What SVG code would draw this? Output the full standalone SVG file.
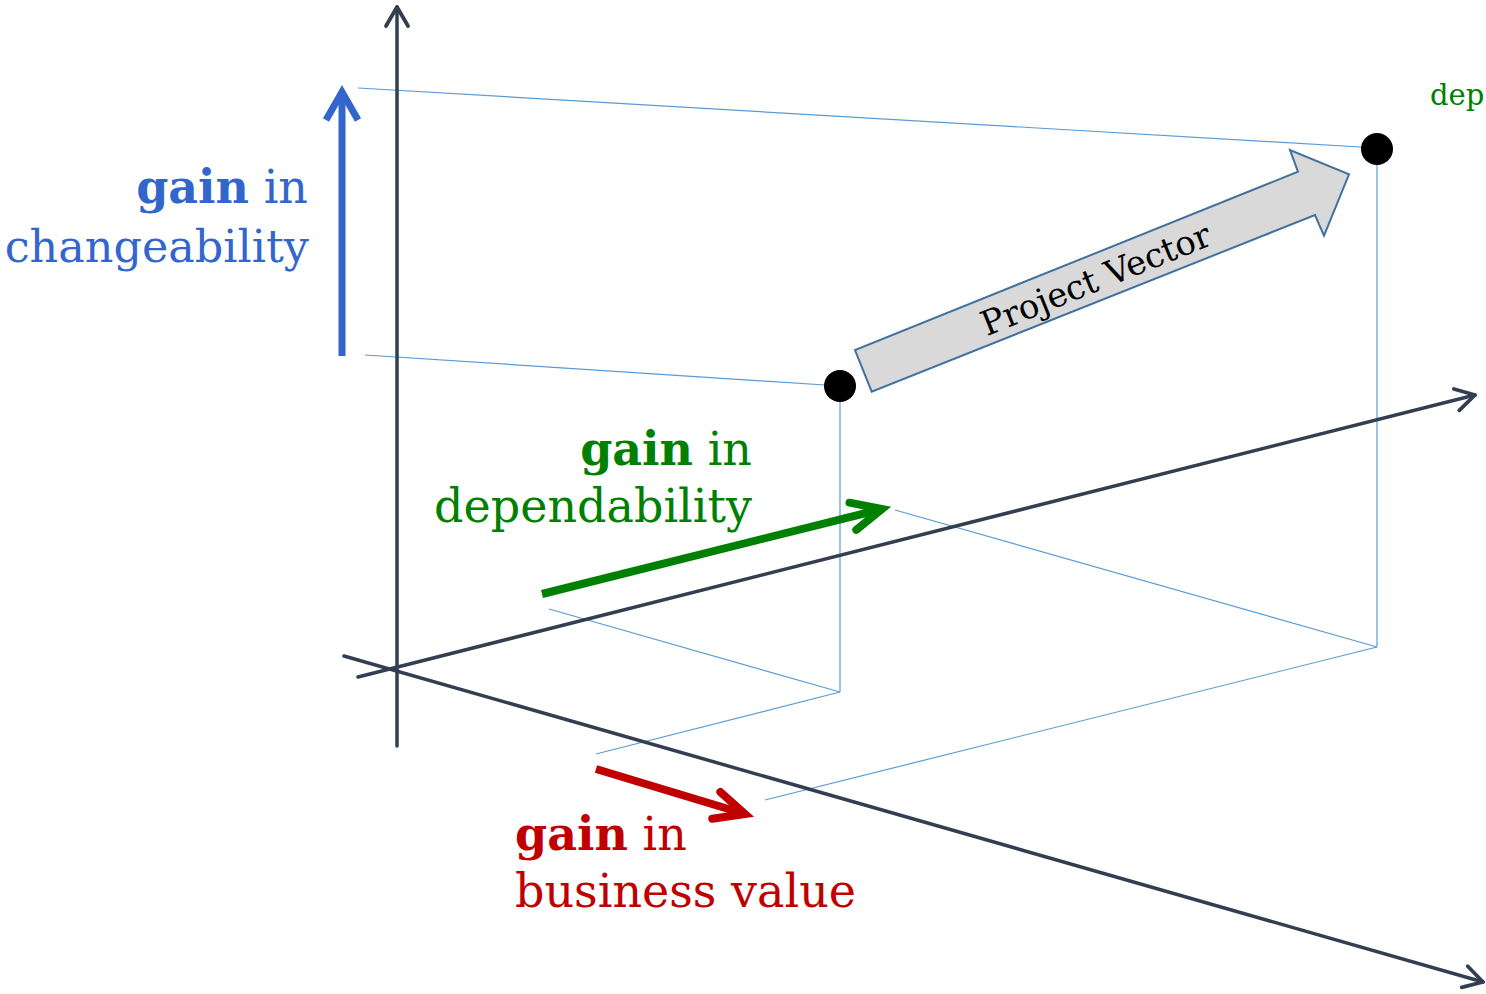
<svg xmlns="http://www.w3.org/2000/svg" width="1486" height="994" viewBox="0 0 1486 994">
<style>
.axis{stroke:#333F50;stroke-width:3.5;fill:none;stroke-linecap:round}
.guide{stroke:#5B9BD5;stroke-width:1.2;fill:none}
.lbl{font-family:"DejaVu Serif","Liberation Serif",serif;font-size:46px}
.b{font-weight:bold}
.blue{fill:#3366CC}
.green{fill:#008000}
.red{fill:#C00000}
</style>
<defs>
<marker id="mAxis" markerUnits="userSpaceOnUse" viewBox="-30 -20 40 40" refX="0" refY="0" markerWidth="40" markerHeight="40" orient="auto" overflow="visible">
<path d="M-19,-11 L0,0 L-19,11" fill="none" stroke="#333F50" stroke-width="3.8" stroke-linecap="round" stroke-linejoin="round"/>
</marker>
<marker id="mBlue" markerUnits="userSpaceOnUse" viewBox="-40 -30 50 60" refX="0" refY="0" markerWidth="50" markerHeight="60" orient="auto" overflow="visible">
<path d="M-28,-16 L0,0 L-28,16" fill="none" stroke="#3366CC" stroke-width="7" stroke-linecap="butt" stroke-linejoin="miter"/>
</marker>
<marker id="mGreen" markerUnits="userSpaceOnUse" viewBox="-40 -30 50 60" refX="0" refY="0" markerWidth="50" markerHeight="60" orient="auto" overflow="visible">
<path d="M-30,-14 L0,0 L-30,14" fill="none" stroke="#008000" stroke-width="8" stroke-linecap="round" stroke-linejoin="miter"/>
</marker>
<marker id="mRed" markerUnits="userSpaceOnUse" viewBox="-40 -30 50 60" refX="0" refY="0" markerWidth="50" markerHeight="60" orient="auto" overflow="visible">
<path d="M-30,-14 L0,0 L-30,14" fill="none" stroke="#C00000" stroke-width="8" stroke-linecap="round" stroke-linejoin="miter"/>
</marker>
</defs>
<rect width="1486" height="994" fill="#FFFFFF"/>
<g id="connectors">
<line class="guide" x1="358" y1="88" x2="1377" y2="148"/>
<line class="guide" x1="365" y1="355" x2="840" y2="386"/>
<line class="guide" x1="840" y1="386" x2="840" y2="692"/>
<line class="guide" x1="549" y1="609" x2="840" y2="692"/>
<line class="guide" x1="596" y1="754" x2="840" y2="692"/>
<line class="guide" x1="1377" y1="148" x2="1377" y2="647"/>
<line class="guide" x1="895" y1="510" x2="1377" y2="647"/>
<line class="guide" x1="765" y1="800" x2="1377" y2="647"/>
<line class="axis" x1="397" y1="746" x2="397" y2="7" marker-end="url(#mAxis)"/>
<line class="axis" x1="358" y1="677" x2="1475" y2="395" marker-end="url(#mAxis)"/>
<line class="axis" x1="344" y1="656" x2="1483" y2="982" marker-end="url(#mAxis)"/>
<line x1="342" y1="356" x2="342" y2="92" stroke="#3366CC" stroke-width="7" marker-end="url(#mBlue)"/>
<line x1="542" y1="594" x2="882" y2="509" stroke="#008000" stroke-width="8" marker-end="url(#mGreen)"/>
<line x1="596" y1="769" x2="745" y2="814" stroke="#C00000" stroke-width="8" marker-end="url(#mRed)"/>
</g>
<g id="project-vector">
<polygon points="871.7,391.7 855,350 1298,171.7 1290,150 1349,174.3 1324,235.7 1315,215" fill="#D9D9D9" stroke="#41719C" stroke-width="2" stroke-linejoin="miter"/>
<text x="1096" y="291" transform="rotate(-22.1 1096 280)" text-anchor="middle" font-family="DejaVu Serif, Liberation Serif, serif" font-size="34" fill="#000000">Project Vector</text>
</g>
<g id="point-start"><circle cx="840" cy="386" r="16" fill="#000000"/></g>
<g id="point-end"><circle cx="1377" cy="149" r="16" fill="#000000"/></g>
<g id="label-dep"><text x="1430" y="105" font-family="DejaVu Serif, Liberation Serif, serif" font-size="29" fill="#008000">dep</text></g>
<g id="label-changeability">
<text class="lbl blue" x="308" y="203" text-anchor="end"><tspan class="b">gain</tspan> in</text>
<text class="lbl blue" x="309" y="262" text-anchor="end" font-size="44.5" style="font-size:44.5px">changeability</text>
</g>
<g id="label-dependability">
<text class="lbl green" x="752" y="465" text-anchor="end"><tspan class="b">gain</tspan> in</text>
<text class="lbl green" x="752" y="522" text-anchor="end">dependability</text>
</g>
<g id="label-business">
<text class="lbl red" x="515" y="850"><tspan class="b">gain</tspan> in</text>
<text class="lbl red" x="515" y="907">business value</text>
</g>
</svg>
